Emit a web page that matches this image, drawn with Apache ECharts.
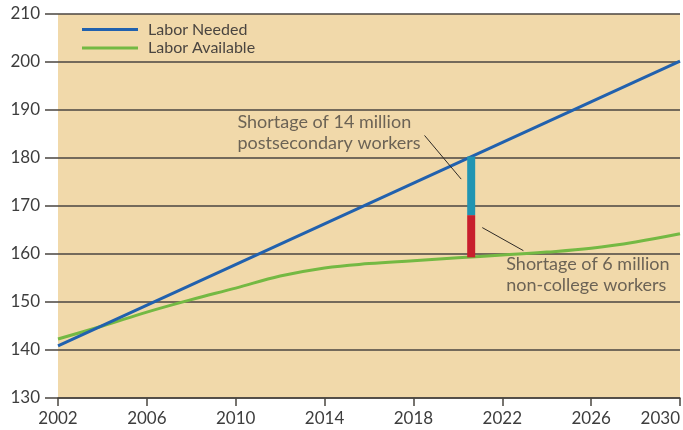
<!DOCTYPE html>
<html>
<head>
<meta charset="utf-8">
<script src="https://cdn.jsdelivr.net/npm/echarts@6/dist/echarts.min.js"></script>
<style>
  html, body { margin: 0; padding: 0; background: #fff; }
  #labor_chart { width: 683px; height: 430px; }
</style>
</head>
<body>
<div id="labor_chart"></div>
<script>
// labor supply vs demand, millions of workers
var years_needed = [2002, 2030];
var labor_needed = [140.85, 200.2];

var years_available = [2002, 2004, 2006, 2008, 2010, 2012, 2014, 2016, 2018, 2020, 2022, 2024, 2026, 2028, 2030];
var labor_available = [142.3, 145.0, 147.9, 150.5, 152.9, 155.4, 157.1, 158.0, 158.6, 159.2, 159.8, 160.4, 161.2, 162.5, 164.2];

// shortage bar at ~2020.6
var shortage_year = 2020.6;
var noncollege_range = [159.3, 168.1];   // red part
var postsec_range = [168.1, 180.3];      // teal part

var x_ticks = [2002, 2030, 4];
var y_ticks = [130, 210, 10];

var note_postsec = 'Shortage of 14 million\npostsecondary workers';
var note_noncollege = 'Shortage of 6 million\nnon-college workers';

var FONT = 'Lato';

function pairs(xs, ys) {
    var out = [];
    for (var i = 0; i < xs.length; i++) out.push([xs[i], ys[i]]);
    return out;
}

var chart = echarts.init(document.getElementById('labor_chart'), null, {renderer: 'canvas'});
chart.setOption({
    animation: false,
    textStyle: {fontFamily: FONT},
    grid: {
        left: 58,
        right: 0,
        top: 14,
        bottom: 32,
        show: true,
        backgroundColor: '#f1d9aa',
        borderWidth: 0
    },
    legend: {
        orient: 'vertical',
        left: 82,
        top: 21,
        padding: 0,
        icon: 'rect',
        itemWidth: 56,
        itemHeight: 3,
        itemGap: 1.5,
        textStyle: {fontFamily: FONT, fontSize: 16, color: '#4a4540', padding: [0, 0, 0, 5], lineHeight: 17},
        data: ['Labor Needed', 'Labor Available']
    },
    xAxis: {
        type: 'value',
        min: x_ticks[0],
        max: x_ticks[1],
        interval: x_ticks[2],
        axisLine: {show: true, lineStyle: {color: '#4a4540', width: 1.5}},
        axisTick: {show: true, length: 8, lineStyle: {color: '#4a4540', width: 1.5}},
        splitLine: {show: false},
        axisLabel: {
            fontFamily: FONT, fontSize: 17, color: '#3d3d3d', margin: 12,
            alignMaxLabel: 'right',
            formatter: function (v) { return String(v); }
        }
    },
    yAxis: {
        type: 'value',
        min: y_ticks[0],
        max: y_ticks[1],
        interval: y_ticks[2],
        axisLine: {show: false},
        axisTick: {show: true, length: 13, lineStyle: {color: '#4a4540', width: 1.5}},
        splitLine: {show: true, lineStyle: {color: '#4a4540', width: 1.5}},
        axisLabel: {fontFamily: FONT, fontSize: 17, color: '#3d3d3d', margin: 18, padding: [0, 0, 4, 0]}
    },
    series: [{
        name: 'Labor Available',
        type: 'line',
        data: pairs(years_available, labor_available),
        smooth: 0.4,
        showSymbol: false,
        color: '#74b943',
        lineStyle: {width: 3, color: '#74b943'},
        z: 3
    }, {
        name: 'Labor Needed',
        type: 'line',
        data: pairs(years_needed, labor_needed),
        showSymbol: false,
        color: '#2161ae',
        lineStyle: {width: 3, color: '#2161ae'},
        z: 4,
        // leader lines for the notes
        markLine: {
            silent: true,
            symbol: ['none', 'none'],
            label: {show: false},
            lineStyle: {color: '#2e2a26', width: 1, type: 'solid'},
            data: [
                [{coord: [2018.5, 184.7]}, {coord: [2020.15, 175.6]}],
                [{coord: [2021.1, 165.5]}, {coord: [2022.95, 160.7]}]
            ]
        }
    }, {
        name: 'noncollege',
        type: 'line',
        data: [[shortage_year, noncollege_range[0]], [shortage_year, noncollege_range[1]]],
        showSymbol: false,
        lineStyle: {width: 8, color: '#c81f2d', cap: 'butt'},
        z: 5
    }, {
        name: 'postsecondary',
        type: 'line',
        data: [[shortage_year, postsec_range[0]], [shortage_year, postsec_range[1]]],
        showSymbol: false,
        lineStyle: {width: 8, color: '#2195b2', cap: 'butt'},
        z: 5
    }, {
        name: 'notes',
        type: 'scatter',
        symbolSize: 1,
        itemStyle: {color: 'rgba(0,0,0,0)'},
        silent: true,
        data: [
            {value: [2010.1, 189.6], label: {formatter: note_postsec}},
            {value: [2022.2, 160.0], label: {formatter: note_noncollege}}
        ],
        label: {
            show: true,
            position: [0, 0],
            align: 'left',
            verticalAlign: 'top',
            fontFamily: FONT,
            fontSize: 18,
            lineHeight: 21,
            color: '#4a4540'
        },
        z: 6
    }]
});
</script>
</body>
</html>
